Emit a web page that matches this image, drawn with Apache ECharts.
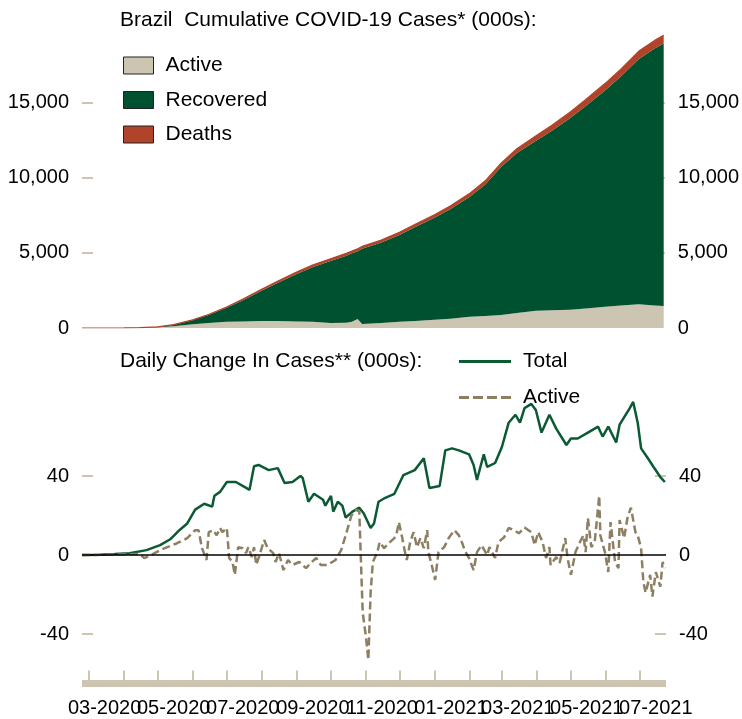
<!DOCTYPE html>
<html>
<head>
<meta charset="utf-8">
<script src="https://cdn.jsdelivr.net/npm/echarts@6/dist/echarts.min.js"></script>
<style>
  html, body { margin: 0; padding: 0; background: #fff; }
  #chart { width: 742px; height: 719px; }
</style>
</head>
<body>
<div id="chart"></div>
<script>
// cumulative cases, thousands
const topDates = ['2020-02-24','2020-03-15','2020-04-01','2020-04-15','2020-05-01','2020-05-15','2020-06-01','2020-06-15','2020-07-01','2020-07-15','2020-08-01','2020-08-15','2020-09-01','2020-09-15','2020-10-01','2020-10-15','2020-10-20','2020-10-25','2020-10-29','2020-11-15','2020-12-01','2020-12-15','2021-01-01','2021-01-15','2021-02-01','2021-02-15','2021-03-01','2021-03-15','2021-04-01','2021-04-15','2021-05-01','2021-05-15','2021-06-01','2021-06-15','2021-07-01','2021-07-15','2021-07-23'];
const activeCum = [0,0.2,5,18,45,110,250,340,420,440,460,470,440,410,330,350,420,590,270,330,420,470,540,620,740,800,870,1000,1140,1180,1220,1300,1410,1500,1570,1500,1460];
const recoveredCum = [0,0,0.8,6,29,96,260,516,920,1395,2012,2523,3153,3632,4126,4458,4545,4513,4991,5344,5766,6237,6790,7272,7965,8740,9824,10630,11305,11925,12715,13455,14365,15210,16310,17070,17442];
const deathsCum = [0,0,0.2,2,6,14,30,44,60,75,93,107,122,133,144,152,155,157,159,166,174,183,195,208,225,240,256,280,325,365,405,435,465,490,520,540,548];

// daily change, thousands
const totalDates = ['2020-02-24','2020-03-11','2020-03-24','2020-04-06','2020-04-21','2020-05-03','2020-05-12','2020-05-20','2020-05-27','2020-06-03','2020-06-11','2020-06-18','2020-06-20','2020-06-25','2020-07-01','2020-07-09','2020-07-18','2020-07-21','2020-07-25','2020-07-29','2020-08-07','2020-08-15','2020-08-21','2020-08-28','2020-09-04','2020-09-06','2020-09-11','2020-09-16','2020-09-24','2020-09-26','2020-10-01','2020-10-03','2020-10-07','2020-10-11','2020-10-14','2020-10-20','2020-10-26','2020-10-30','2020-11-05','2020-11-08','2020-11-12','2020-11-18','2020-11-26','2020-12-04','2020-12-14','2020-12-22','2020-12-27','2021-01-05','2021-01-10','2021-01-16','2021-01-22','2021-01-31','2021-02-04','2021-02-07','2021-02-10','2021-02-13','2021-02-16','2021-02-23','2021-03-01','2021-03-07','2021-03-13','2021-03-17','2021-03-21','2021-03-27','2021-03-31','2021-04-05','2021-04-12','2021-04-18','2021-04-27','2021-05-01','2021-05-07','2021-05-16','2021-05-25','2021-05-29','2021-06-03','2021-06-10','2021-06-13','2021-06-22','2021-06-25','2021-06-29','2021-07-02','2021-07-08','2021-07-13','2021-07-19','2021-07-23'];
const totalDaily = [0,0.2,0.5,0.9,2.5,5,8,12.6,16,23,26,24.5,30,32,37,37,34,33,45,45.6,43,44,36.5,37,40,39,27,31,28,25,30,22,27,25,19,22,24,21,13.7,16,27,29,31,40.5,43,49,34,35,53,54,53,51,45.6,38,44.6,51,44.6,46.6,54.7,67,71,67,74.4,76.5,73.4,62,71,64,55.7,59,59,62,65,60,65,57,66,74.4,77.5,67,54,49,44.6,39.5,37];

const activeDates = ['2020-02-24','2020-04-06','2020-04-15','2020-04-19','2020-04-25','2020-05-05','2020-05-18','2020-05-27','2020-06-03','2020-06-06','2020-06-09','2020-06-13','2020-06-15','2020-06-19','2020-06-22','2020-06-25','2020-06-27','2020-07-01','2020-07-03','2020-07-06','2020-07-08','2020-07-11','2020-07-15','2020-07-18','2020-07-20','2020-07-23','2020-07-25','2020-07-27','2020-07-29','2020-08-03','2020-08-06','2020-08-11','2020-08-13','2020-08-16','2020-08-20','2020-08-24','2020-08-28','2020-09-03','2020-09-09','2020-09-13','2020-09-18','2020-09-22','2020-09-28','2020-10-05','2020-10-10','2020-10-14','2020-10-19','2020-10-23','2020-10-26','2020-10-27','2020-10-29','2020-11-01','2020-11-03','2020-11-05','2020-11-07','2020-11-11','2020-11-13','2020-11-17','2020-11-21','2020-11-26','2020-11-28','2020-11-30','2020-12-03','2020-12-05','2020-12-07','2020-12-10','2020-12-13','2020-12-16','2020-12-19','2020-12-22','2020-12-25','2020-12-26','2020-12-29','2021-01-01','2021-01-04','2021-01-09','2021-01-13','2021-01-18','2021-01-22','2021-01-25','2021-01-27','2021-01-31','2021-02-04','2021-02-07','2021-02-11','2021-02-16','2021-02-18','2021-02-23','2021-02-26','2021-03-03','2021-03-07','2021-03-12','2021-03-16','2021-03-21','2021-03-27','2021-03-30','2021-04-02','2021-04-06','2021-04-09','2021-04-12','2021-04-13','2021-04-18','2021-04-21','2021-04-26','2021-04-28','2021-05-01','2021-05-05','2021-05-09','2021-05-12','2021-05-14','2021-05-16','2021-05-19','2021-05-22','2021-05-26','2021-05-27','2021-05-31','2021-06-03','2021-06-05','2021-06-09','2021-06-12','2021-06-13','2021-06-17','2021-06-20','2021-06-23','2021-06-27','2021-06-29','2021-07-02','2021-07-04','2021-07-06','2021-07-10','2021-07-12','2021-07-15','2021-07-19','2021-07-21','2021-07-23'];
const activeDaily = [0,0.4,0.5,-1.5,0,3,6,8.6,12.6,12.6,3.5,-2.5,11.6,12.6,10,13.7,11.6,13.7,-1.5,-3.5,-10,4,3.5,1,4,-1,4,-5,-1.5,7.6,3.5,1,-3.5,1,-7.6,-2.5,-5,-3.5,-6.6,-4,-1.5,-5,-5,-2.5,2.5,10,20,23,22,5,-29,-42,-53,-19,-3.5,1.5,6.6,3.5,6,8.6,11,16.7,8.6,2.5,-2.5,6.6,11.6,4,8.6,3.5,12.6,1.5,-5,-12.6,1.5,4,8.6,12.6,10,6,2.5,-1.5,-7.6,1.5,5,0,4,-1.5,6.6,9,13.7,12.6,11,14,11.6,5,11.6,6.6,-1.5,4,-5,-1,-4,8.6,-1.5,-10,1.5,6.6,10,1.5,18.7,4,6.6,30,10,1.5,-8.6,16.7,-3.5,-6.6,17.7,8.6,19,24,11.6,10,3.5,-13.7,-19,-10,-21,-8.6,-16,-3.5,-6.6];

// x axis marks
const xMin = '2020-02-24';
const xMax = '2021-07-24';
const tickDates = ['2020-03-01','2020-04-01','2020-05-01','2020-06-01','2020-07-01','2020-08-01','2020-09-01','2020-10-01','2020-11-01','2020-12-01','2021-01-01','2021-02-01','2021-03-01','2021-04-01','2021-05-01','2021-06-01','2021-07-01'];
const labelDates = ['2020-03-15','2020-05-15','2020-07-15','2020-09-15','2020-11-15','2021-01-15','2021-03-15','2021-05-15','2021-07-15'];

const FONT = '"Liberation Sans", Arial, sans-serif';
const TAN = '#cdc5b2';

// dates -> local timestamps (bottom axis is a plain value axis so custom ticks work)
function ts(s) {
  const p = s.split('-').map(Number);
  return new Date(p[0], p[1] - 1, p[2]).getTime();
}
function pairs(dates, vals) {
  return dates.map((d, i) => [ts(d), vals[i]]);
}

const chart = echarts.init(document.getElementById('chart'), null, { renderer: 'canvas' });

const yLabel = { color: '#000', fontSize: 20, fontFamily: FONT, margin: 13 };
const yTick = { show: true, inside: true, length: 11, lineStyle: { color: TAN, width: 2 } };

function yAxisPair(gridIndex, min, max, ticks, labels) {
  return ['left', 'right'].map(pos => ({
    type: 'value', gridIndex: gridIndex, position: pos, min: min, max: max,
    splitLine: { show: false }, axisLine: { show: false },
    axisTick: Object.assign({ customValues: ticks }, yTick),
    axisLabel: Object.assign({
      customValues: labels,
      formatter: v => v.toLocaleString('en-US')
    }, yLabel)
  }));
}

// the month labels overlap each other in the original, so they are split over
// two label-only axes (every other label) to stop echarts hiding any of them
function labelAxis(values) {
  return {
    type: 'value', gridIndex: 1, position: 'bottom', min: ts(xMin), max: ts(xMax),
    splitLine: { show: false }, axisLine: { show: false }, axisTick: { show: false },
    axisLabel: {
      customValues: values.map(ts),
      color: '#000', fontSize: 20, fontFamily: FONT, margin: 15,
      formatter: v => {
        const d = new Date(v);
        return String(d.getMonth() + 1).padStart(2, '0') + '-' + d.getFullYear();
      }
    }
  };
}

const lineIcon = 'path://M0,0H52V3H0Z';
const dashIcon = 'path://M0,0H10V3H0Z M14,0H24V3H14Z M28,0H38V3H28Z M42,0H52V3H42Z';
const titleText = { fontSize: 21, fontWeight: 'normal', color: '#000', fontFamily: FONT };
const legendText = { fontSize: 21, color: '#000', fontFamily: FONT, lineHeight: 21, padding: [0, 0, 0, 7] };

const option = {
  animation: false,
  backgroundColor: '#fff',
  textStyle: { fontFamily: FONT },
  title: [
    { text: 'Brazil  Cumulative COVID-19 Cases* (000s):', left: 115, top: 4.5, textStyle: titleText },
    { text: 'Daily Change In Cases** (000s):', left: 115, top: 346, textStyle: titleText }
  ],
  legend: [
    {
      orient: 'vertical', left: 118, top: 50,
      itemWidth: 30, itemHeight: 17, itemGap: 13.5, icon: 'rect',
      data: ['Active', 'Recovered', 'Deaths'],
      itemStyle: { borderColor: '#222', borderWidth: 1 },
      textStyle: legendText,
      selectedMode: false
    },
    {
      orient: 'vertical', left: 454, top: 346,
      itemWidth: 52, itemHeight: 14, itemGap: 15,
      data: [{ name: 'Total', icon: lineIcon }, { name: 'Active (daily)', icon: dashIcon }],
      formatter: name => name === 'Active (daily)' ? 'Active' : name,
      textStyle: legendText,
      selectedMode: false
    }
  ],
  grid: [
    { left: 82, right: 76, top: 27, height: 301 },
    { left: 82, right: 76, top: 357.5, height: 326 }
  ],
  xAxis: [
    { type: 'time', gridIndex: 0, min: ts(xMin), max: ts(xMax), show: false },
    {
      type: 'value', gridIndex: 1, position: 'bottom', min: ts(xMin), max: ts(xMax),
      splitLine: { show: false },
      axisLine: { show: true, onZero: false, lineStyle: { color: TAN, width: 7, cap: 'butt' } },
      axisTick: { show: true, inside: true, length: 13, customValues: tickDates.map(ts),
        lineStyle: { color: TAN, width: 2 } },
      axisLabel: { show: false }
    },
    labelAxis(labelDates.filter((d, i) => i % 2 === 0)),
    labelAxis(labelDates.filter((d, i) => i % 2 === 1))
  ],
  yAxis: yAxisPair(0, 0, 20000, [5000, 10000, 15000], [0, 5000, 10000, 15000])
    .concat(yAxisPair(1, -65, 100, [-40, 40], [-40, 0, 40])),
  series: [
    {
      name: 'Active', type: 'line', xAxisIndex: 0, yAxisIndex: 0, stack: 'cum',
      symbol: 'none', lineStyle: { width: 0 },
      itemStyle: { color: '#ccc5b2' }, areaStyle: { color: '#ccc5b2', opacity: 1 },
      data: pairs(topDates, activeCum)
    },
    {
      name: 'Recovered', type: 'line', xAxisIndex: 0, yAxisIndex: 0, stack: 'cum',
      symbol: 'none', lineStyle: { width: 0 },
      itemStyle: { color: '#005130' }, areaStyle: { color: '#005130', opacity: 1 },
      data: pairs(topDates, recoveredCum)
    },
    {
      name: 'Deaths', type: 'line', xAxisIndex: 0, yAxisIndex: 0, stack: 'cum',
      symbol: 'none', lineStyle: { width: 1.2, color: '#b0442a' },
      itemStyle: { color: '#b0442a' }, areaStyle: { color: '#b0442a', opacity: 1 },
      data: pairs(topDates, deathsCum)
    },
    {
      name: 'Total', type: 'line', xAxisIndex: 1, yAxisIndex: 2,
      symbol: 'none',
      lineStyle: { color: '#0b5a34', width: 2.5 },
      itemStyle: { color: '#0b5a34' },
      data: pairs(totalDates, totalDaily)
    },
    {
      name: 'Active (daily)', type: 'line', xAxisIndex: 1, yAxisIndex: 2,
      symbol: 'none',
      lineStyle: { color: '#8c7f62', width: 2.5, type: [8, 4] },
      itemStyle: { color: '#8c7f62' },
      data: pairs(activeDates, activeDaily),
      markLine: {
        silent: true, symbol: 'none', label: { show: false },
        lineStyle: { color: '#000', width: 1.5, type: 'solid' },
        data: [{ yAxis: 0 }]
      }
    }
  ]
};

chart.setOption(option);
</script>
</body>
</html>
